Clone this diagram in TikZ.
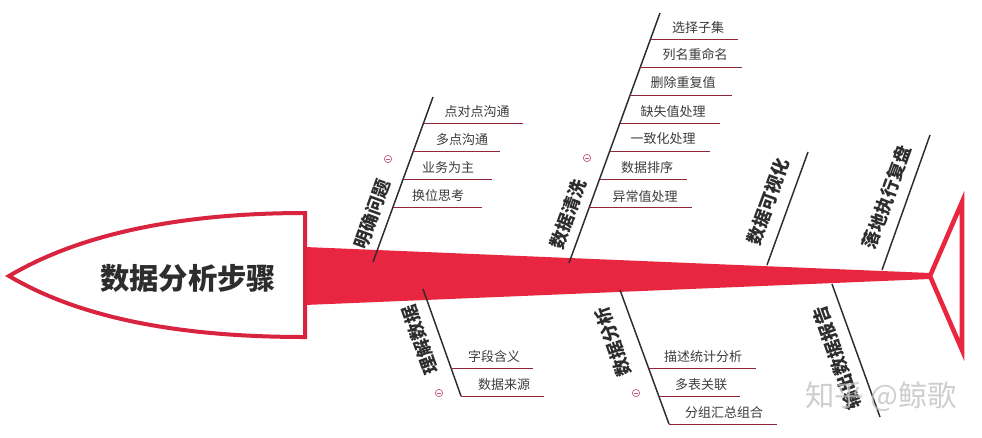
\documentclass[tikz,border=0pt]{standalone}
\usepackage{fontspec}
\setmainfont{Noto Sans CJK SC}
\definecolor{spinered}{RGB}{232,38,64}
\definecolor{headred}{RGB}{216,36,62}
\definecolor{ink}{RGB}{45,45,48}
\definecolor{subink}{RGB}{60,60,64}
\definecolor{sublinecol}{RGB}{140,40,58}
\definecolor{minuscol}{RGB}{196,90,115}
\definecolor{wmcol}{RGB}{190,190,190}
\tikzset{
  branch/.style={draw=ink, line width=1.1pt},
  subbranch/.style={draw=sublinecol, line width=0.7pt},
  sublabel/.style={font=\fontsize{9.75}{10}\selectfont, text=subink, inner sep=0pt},
  mainlabel/.style={font=\bfseries\fontsize{13.5}{14}\selectfont, text=ink, inner sep=0pt},
  collapse/.style={circle, draw=minuscol, line width=0.5pt, minimum size=5.5pt, inner sep=0pt,
    path picture={\draw[minuscol, line width=0.5pt] ([xshift=-1.6pt]path picture bounding box.center) -- ([xshift=1.6pt]path picture bounding box.center);}},
}
\begin{document}
\begin{tikzpicture}[x=0.75pt,y=-0.75pt]
\useasboundingbox (0,0) rectangle (982,437);
\fill[white] (0,0) rectangle (982,437);
% spine
\fill[spinered] (305,247) -- (930,273) -- (930,279) -- (305,305) -- cycle;
% head
\draw[headred, line width=3pt, fill=white] (305,213) .. controls (200,213) and (90,228) .. (9,276)
   .. controls (90,324) and (200,337) .. (305,337) -- cycle;
\node[font=\bfseries\fontsize{22}{24}\selectfont, text=ink] (title) at (188,278) {数据分析步骤};
% tail
\draw[spinered, line width=3.4pt] (930,276) -- (962,202) -- (962,350) -- cycle;

% branch 1: 明确问题
\coordinate (A0) at (373,262); \coordinate (A1) at (433,97);
\draw[branch] (A0) -- (A1);
\node[mainlabel, rotate=70] (Alab) at (372,214) {明确问题};
\node[collapse] (Amin) at (388,159) {};
\coordinate (Aa) at (423.5,123); \coordinate (Aae) at (523,123);
\coordinate (Ab) at (413.4,151); \coordinate (Abe) at (500,151);
\coordinate (Ac) at (403.2,179); \coordinate (Ace) at (492,179);
\coordinate (Ad) at (393,207);   \coordinate (Ade) at (482,207);
\draw[subbranch] (Aa) -- (Aae); \draw[subbranch] (Ab) -- (Abe);
\draw[subbranch] (Ac) -- (Ace); \draw[subbranch] (Ad) -- (Ade);
\node[sublabel] (Aat) at (477,112) {点对点沟通};
\node[sublabel] (Abt) at (462,140) {多点沟通};
\node[sublabel] (Act) at (448,168) {业务为主};
\node[sublabel] (Adt) at (438,196) {换位思考};

% branch 2: 数据清洗
\coordinate (B0) at (569,263); \coordinate (B1) at (660,13);
\draw[branch] (B0) -- (B1);
\node[mainlabel, rotate=70] (Blab) at (568,214) {数据清洗};
\node[collapse] (Bmin) at (587,158) {};
\coordinate (Ba) at (650.5,39);  \coordinate (Bae) at (738,39);
\coordinate (Bb) at (640.3,67);  \coordinate (Bbe) at (742,67);
\coordinate (Bc) at (630.2,95);  \coordinate (Bce) at (732,95);
\coordinate (Bd) at (620,123);   \coordinate (Bde) at (720,123);
\coordinate (Be) at (609.8,151); \coordinate (Bee) at (710,151);
\coordinate (Bf) at (599.6,179); \coordinate (Bfe) at (687,179);
\coordinate (Bg) at (589.4,207); \coordinate (Bge) at (692,207);
\draw[subbranch] (Ba) -- (Bae); \draw[subbranch] (Bb) -- (Bbe);
\draw[subbranch] (Bc) -- (Bce); \draw[subbranch] (Bd) -- (Bde);
\draw[subbranch] (Be) -- (Bee); \draw[subbranch] (Bf) -- (Bfe);
\draw[subbranch] (Bg) -- (Bge);
\node[sublabel] (Bat) at (698,28)  {选择子集};
\node[sublabel] (Bbt) at (695,55)  {列名重命名};
\node[sublabel] (Bct) at (683,83)  {删除重复值};
\node[sublabel] (Bdt) at (673,112) {缺失值处理};
\node[sublabel] (Bet) at (663,139) {一致化处理};
\node[sublabel] (Bft) at (647,168) {数据排序};
\node[sublabel] (Bgt) at (645,197) {异常值处理};

% branch 3: 数据可视化
\coordinate (C0) at (767,265); \coordinate (C1) at (808,152);
\draw[branch] (C0) -- (C1);
\node[mainlabel, rotate=70] (Clab) at (768,202) {数据可视化};

% branch 4: 落地执行复盘
\coordinate (D0) at (882,270); \coordinate (D1) at (930,135);
\draw[branch] (D0) -- (D1);
\node[mainlabel, rotate=70] (Dlab) at (887,197) {落地执行复盘};

% branch 5: 理解数据
\coordinate (E0) at (423,289); \coordinate (E1) at (461,396);
\draw[branch] (E0) -- (E1);
\node[mainlabel, rotate=110] (Elab) at (420,340) {理解数据};
\node[collapse] (Emin) at (439,393) {};
\coordinate (Ea) at (451,368); \coordinate (Eae) at (533,368);
\coordinate (Eb) at (461,396); \coordinate (Ebe) at (544,396);
\draw[subbranch] (Ea) -- (Eae); \draw[subbranch] (Eb) -- (Ebe);
\node[sublabel] (Eat) at (494,357) {字段含义};
\node[sublabel] (Ebt) at (504,385) {数据来源};

% branch 6: 数据分析
\coordinate (F0) at (620,290); \coordinate (F1) at (669,424);
\draw[branch] (F0) -- (F1);
\node[mainlabel, rotate=110] (Flab) at (613,342) {数据分析};
\node[collapse] (Fmin) at (636,393) {};
\coordinate (Fa) at (648.5,368); \coordinate (Fae) at (756,368);
\coordinate (Fb) at (658.8,396); \coordinate (Fbe) at (740,396);
\coordinate (Fc) at (669,424);   \coordinate (Fce) at (777,424);
\draw[subbranch] (Fa) -- (Fae); \draw[subbranch] (Fb) -- (Fbe);
\draw[subbranch] (Fc) -- (Fce);
\node[sublabel] (Fat) at (703,357) {描述统计分析};
\node[sublabel] (Fbt) at (701,385) {多表关联};
\node[sublabel] (Fct) at (724,413) {分组汇总组合};

% branch 7: 输出数据报告
\coordinate (G0) at (832,284); \coordinate (G1) at (880,417);
\draw[branch] (G0) -- (G1);
\node[mainlabel, rotate=110] (Glab) at (837,358) {输出数据报告};

% watermark (semi-transparent, as in the reference)
\node[font=\fontsize{22}{24}\selectfont, text=wmcol, text opacity=0.75, inner sep=0pt] (wm) at (881,397) {知乎 @鲸歌};
\end{tikzpicture}
\end{document}
